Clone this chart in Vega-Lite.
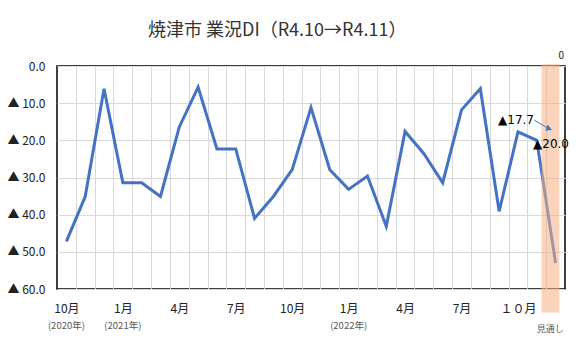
{
  "$schema": "https://vega.github.io/schema/vega-lite/v6.json",
  "width": 508,
  "height": 223,
  "autosize": "none",
  "padding": {"left": 57, "top": 66, "right": 21, "bottom": 65},
  "background": "#ffffff",
  "title": {
    "text": "焼津市 業況DI（R4.10→R4.11）",
    "anchor": "start",
    "frame": "group",
    "dx": 91,
    "offset": 11,
    "fontSize": 18,
    "fontWeight": "normal",
    "font": "Noto Sans CJK JP",
    "color": "#333333"
  },
  "config": {
    "view": {"stroke": "#000000", "strokeWidth": 1.5},
    "font": "Noto Sans CJK JP",
    "axisX": {
      "title": null,
      "labelExpr": "(datum.value - 0.5) % 3 == 0 && datum.value < 25 ? (datum.value == 24.5 ? '１０月' : ['10月','1月','4月','7月'][((datum.value - 0.5) / 3) % 4]) : ''",
      "labelOffset": -9.4,
      "labelOverlap": false,
      "labelBound": false,
      "labelFlush": false,
      "labelPadding": 14,
      "labelFontSize": 12,
      "labelColor": "#222222",
      "ticks": false,
      "domain": false,
      "grid": true,
      "gridColor": "#D9D9D9",
      "gridWidth": 1
    },
    "axisY": {
      "title": null,
      "labelExpr": "datum.value == 0 ? '0.0' : '▲ ' + format(datum.value, '.1f')",
      "labelOverlap": false,
      "labelPadding": 12,
      "labelFontSize": 12,
      "labelColor": "#222222",
      "ticks": false,
      "domain": false,
      "grid": true,
      "gridColor": "#D9D9D9",
      "gridWidth": 1
    }
  },
  "datasets": {
    "di": [
      {"i": 0, "month": "2020-10", "v": 47.2},
      {"i": 1, "month": "2020-11", "v": 35.1},
      {"i": 2, "month": "2020-12", "v": 6.1},
      {"i": 3, "month": "2021-01", "v": 31.4},
      {"i": 4, "month": "2021-02", "v": 31.4},
      {"i": 5, "month": "2021-03", "v": 35.1},
      {"i": 6, "month": "2021-04", "v": 16.4},
      {"i": 7, "month": "2021-05", "v": 5.7},
      {"i": 8, "month": "2021-06", "v": 22.3},
      {"i": 9, "month": "2021-07", "v": 22.3},
      {"i": 10, "month": "2021-08", "v": 41.0},
      {"i": 11, "month": "2021-09", "v": 35.1},
      {"i": 12, "month": "2021-10", "v": 27.9},
      {"i": 13, "month": "2021-11", "v": 11.2},
      {"i": 14, "month": "2021-12", "v": 27.9},
      {"i": 15, "month": "2022-01", "v": 33.2},
      {"i": 16, "month": "2022-02", "v": 29.6},
      {"i": 17, "month": "2022-03", "v": 43.1},
      {"i": 18, "month": "2022-04", "v": 17.6},
      {"i": 19, "month": "2022-05", "v": 23.6},
      {"i": 20, "month": "2022-06", "v": 31.4},
      {"i": 21, "month": "2022-07", "v": 11.8},
      {"i": 22, "month": "2022-08", "v": 6.1},
      {"i": 23, "month": "2022-09", "v": 39.1},
      {"i": 24, "month": "2022-10", "v": 17.7},
      {"i": 25, "month": "2022-11", "v": 20.0},
      {"i": 26, "month": "見通し", "v": 53.0}
    ],
    "years": [
      {"i": 0, "year": "(2020年)"},
      {"i": 3, "year": "(2021年)"},
      {"i": 15, "year": "(2022年)"}
    ],
    "band": [
      {"from": 25.25, "to": 26.2, "label": "見通し", "mid": 25.72}
    ]
  },
  "layer": [
    {
      "data": {"name": "di"},
      "mark": {"type": "line", "color": "#4472C4", "strokeWidth": 3},
      "encoding": {
        "x": {
          "field": "i",
          "type": "quantitative",
          "scale": {"domain": [-0.5, 26.5], "nice": false, "zero": false},
          "axis": {"values": [0.5, 1.5, 2.5, 3.5, 4.5, 5.5, 6.5, 7.5, 8.5, 9.5, 10.5, 11.5, 12.5, 13.5, 14.5, 15.5, 16.5, 17.5, 18.5, 19.5, 20.5, 21.5, 22.5, 23.5, 24.5, 25.5]}
        },
        "y": {
          "field": "v",
          "type": "quantitative",
          "scale": {"domain": [0, 60], "reverse": true, "nice": false, "zero": false},
          "axis": {"values": [0, 10, 20, 30, 40, 50, 60]}
        }
      }
    },
    {
      "data": {"name": "band"},
      "mark": {"type": "rect", "color": "#F4B183", "opacity": 0.55},
      "encoding": {
        "x": {"field": "from", "type": "quantitative", "axis": {"values": [0.5, 1.5, 2.5, 3.5, 4.5, 5.5, 6.5, 7.5, 8.5, 9.5, 10.5, 11.5, 12.5, 13.5, 14.5, 15.5, 16.5, 17.5, 18.5, 19.5, 20.5, 21.5, 22.5, 23.5, 24.5, 25.5]}},
        "x2": {"field": "to"},
        "y": {"datum": -0.5, "axis": {"values": [0, 10, 20, 30, 40, 50, 60]}},
        "y2": {"datum": 66.3}
      }
    },
    {
      "data": {"name": "band"},
      "mark": {"type": "text", "fontSize": 9, "color": "#595959", "dy": 40, "baseline": "middle"},
      "encoding": {
        "x": {"field": "mid", "type": "quantitative", "axis": {"values": [0.5, 1.5, 2.5, 3.5, 4.5, 5.5, 6.5, 7.5, 8.5, 9.5, 10.5, 11.5, 12.5, 13.5, 14.5, 15.5, 16.5, 17.5, 18.5, 19.5, 20.5, 21.5, 22.5, 23.5, 24.5, 25.5]}},
        "y": {"datum": 60, "axis": {"values": [0, 10, 20, 30, 40, 50, 60]}},
        "text": {"field": "label"}
      }
    },
    {
      "data": {"name": "years"},
      "mark": {"type": "text", "fontSize": 9.5, "color": "#595959", "dy": 37, "baseline": "middle"},
      "encoding": {
        "x": {"field": "i", "type": "quantitative", "axis": {"values": [0.5, 1.5, 2.5, 3.5, 4.5, 5.5, 6.5, 7.5, 8.5, 9.5, 10.5, 11.5, 12.5, 13.5, 14.5, 15.5, 16.5, 17.5, 18.5, 19.5, 20.5, 21.5, 22.5, 23.5, 24.5, 25.5]}},
        "y": {"datum": 60, "axis": {"values": [0, 10, 20, 30, 40, 50, 60]}},
        "text": {"field": "year"}
      }
    },
    {
      "data": {"values": [{"t": "0"}]},
      "mark": {"type": "text", "fontSize": 10, "color": "#222222", "align": "right", "baseline": "middle", "dy": -10, "dx": -1},
      "encoding": {
        "x": {"datum": 26.5, "axis": {"values": [0.5, 1.5, 2.5, 3.5, 4.5, 5.5, 6.5, 7.5, 8.5, 9.5, 10.5, 11.5, 12.5, 13.5, 14.5, 15.5, 16.5, 17.5, 18.5, 19.5, 20.5, 21.5, 22.5, 23.5, 24.5, 25.5]}},
        "y": {"datum": 0, "axis": {"values": [0, 10, 20, 30, 40, 50, 60]}},
        "text": {"field": "t"}
      }
    },
    {
      "data": {"values": [{"t": "▲17.7", "x": 22.94, "y": 14.4}, {"t": "▲20.0", "x": 24.8, "y": 20.9}]},
      "mark": {"type": "text", "fontSize": 12, "font": "DejaVu Sans", "color": "#000000", "align": "left", "baseline": "middle"},
      "encoding": {
        "x": {"field": "x", "type": "quantitative", "axis": {"values": [0.5, 1.5, 2.5, 3.5, 4.5, 5.5, 6.5, 7.5, 8.5, 9.5, 10.5, 11.5, 12.5, 13.5, 14.5, 15.5, 16.5, 17.5, 18.5, 19.5, 20.5, 21.5, 22.5, 23.5, 24.5, 25.5]}},
        "y": {"field": "y", "type": "quantitative", "axis": {"values": [0, 10, 20, 30, 40, 50, 60]}},
        "text": {"field": "t"}
      }
    },
    {
      "data": {"values": [{"x": 24.87, "y": 14.6, "x2": 25.62, "y2": 16.8}]},
      "mark": {"type": "rule", "color": "#4472C4", "strokeWidth": 1},
      "encoding": {
        "x": {"field": "x", "type": "quantitative", "axis": {"values": [0.5, 1.5, 2.5, 3.5, 4.5, 5.5, 6.5, 7.5, 8.5, 9.5, 10.5, 11.5, 12.5, 13.5, 14.5, 15.5, 16.5, 17.5, 18.5, 19.5, 20.5, 21.5, 22.5, 23.5, 24.5, 25.5]}},
        "y": {"field": "y", "type": "quantitative", "axis": {"values": [0, 10, 20, 30, 40, 50, 60]}},
        "x2": {"field": "x2"},
        "y2": {"field": "y2"}
      }
    },
    {
      "data": {"values": [{"x": 25.66, "y": 16.9}]},
      "mark": {"type": "point", "shape": "triangle-right", "filled": true, "color": "#4472C4", "opacity": 1, "size": 45, "angle": 22},
      "encoding": {
        "x": {"field": "x", "type": "quantitative", "axis": {"values": [0.5, 1.5, 2.5, 3.5, 4.5, 5.5, 6.5, 7.5, 8.5, 9.5, 10.5, 11.5, 12.5, 13.5, 14.5, 15.5, 16.5, 17.5, 18.5, 19.5, 20.5, 21.5, 22.5, 23.5, 24.5, 25.5]}},
        "y": {"field": "y", "type": "quantitative", "axis": {"values": [0, 10, 20, 30, 40, 50, 60]}}
      }
    }
  ]
}
